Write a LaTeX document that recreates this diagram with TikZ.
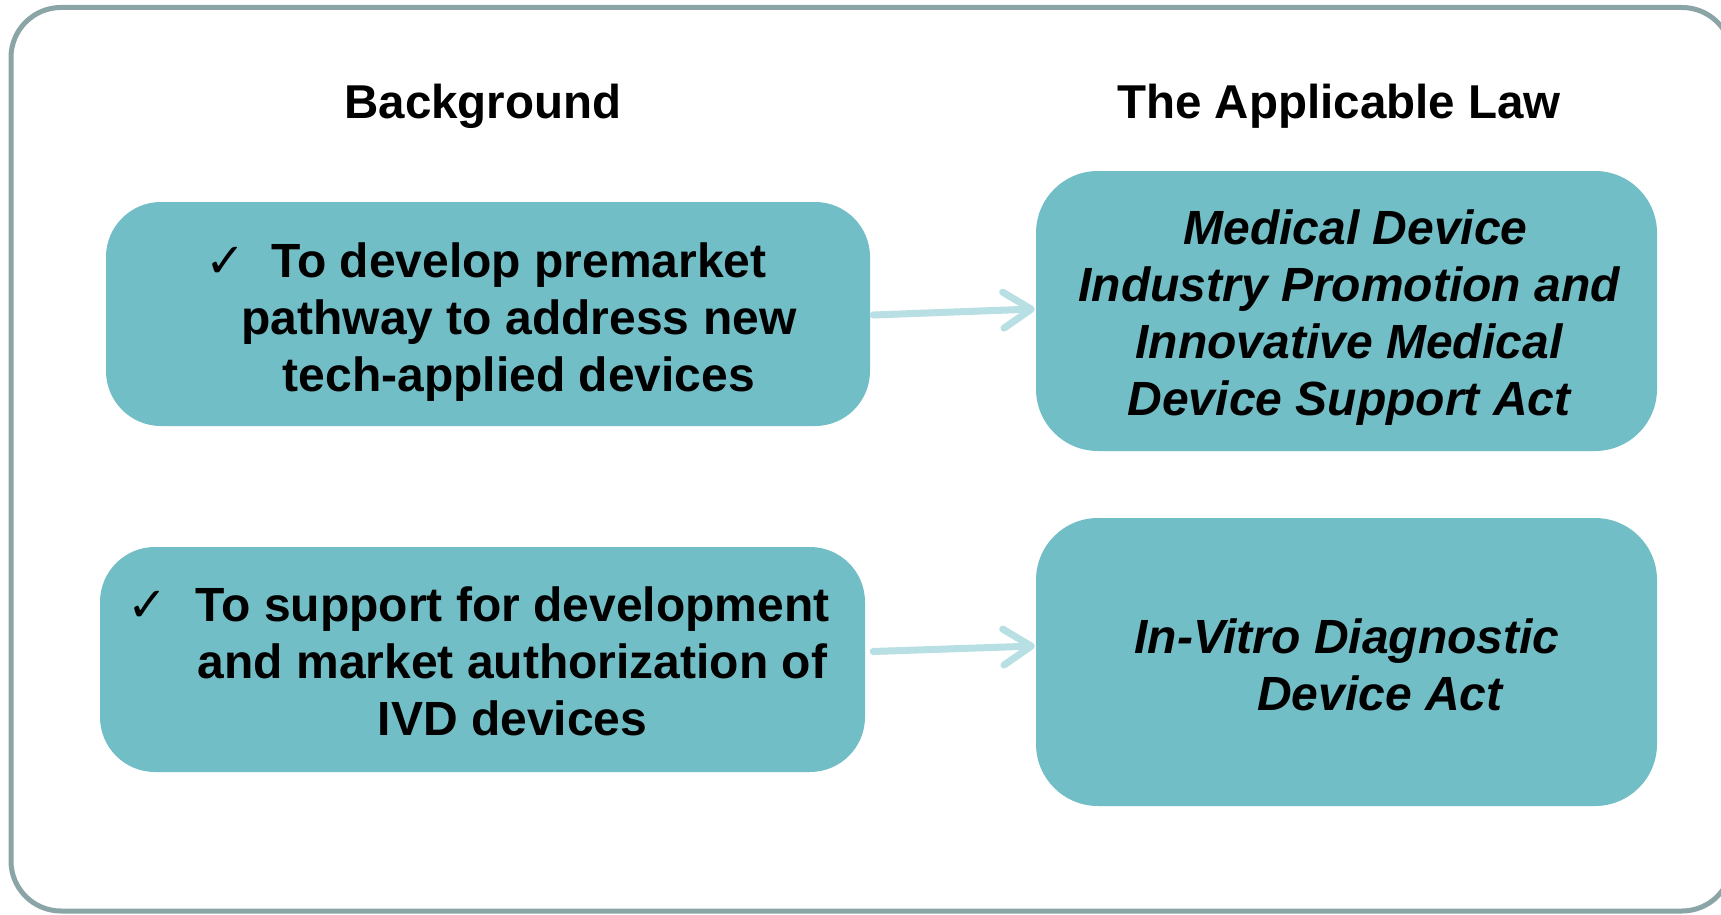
\documentclass[tikz,border=0pt]{standalone}
\usepackage{fontspec}
\setmainfont{Liberation Sans}
\newfontfamily\symfont{DejaVu Sans}
\usetikzlibrary{arrows.meta,calc}
\definecolor{boxfill}{RGB}{114,190,198}
\definecolor{arrowcol}{RGB}{184,223,227}
\definecolor{framecol}{RGB}{139,165,166}
\newcommand{\chk}[1]{\llap{{\symfont ✓}\hspace{#1}}}
\begin{document}
\begin{tikzpicture}[x=1pt,y=-1pt,
  box/.style={fill=boxfill, rounded corners=55pt, draw=none, inner sep=0pt},
  body/.style={font=\fontsize{48}{57}\selectfont\bfseries, align=center, anchor=base, inner sep=0pt},
  law/.style={body, font=\fontsize{48}{57}\selectfont\bfseries\itshape},
  head/.style={font=\fontsize{47.5}{57}\selectfont\bfseries, anchor=base, inner sep=0pt},
  arr/.style={draw=arrowcol, line width=7pt, line cap=round, -{Straight Barb[length=28pt,width=36pt,round]}}
]
\clip (0,0) rectangle (1721,915);
\fill[white] (0,0) rectangle (1721,915);
\draw[framecol, line width=5pt, rounded corners=50pt] (11,7.5) rectangle (1732,911);

\node[head] (h1) at (483,118.5) {Background};
\node[head] (h2) at (1339,118.5) {The Applicable Law};

\node[box, minimum width=764pt, minimum height=224pt] (b1) at (488,314) {};
\node[box, minimum width=765pt, minimum height=225pt] (b2) at (482.5,659.5) {};
\node[box, minimum width=621pt, minimum height=280pt, rounded corners=62pt] (b3) at (1346.5,311) {};
\node[box, minimum width=621pt, minimum height=288pt, rounded corners=62pt] (b4) at (1346.5,662) {};

\node[body] (t1) at (519,391) {\chk{26pt}To develop premarket\\pathway to address new\\tech-applied devices};
\node[body] (t2) at (512.6,735) {\chk{28pt}To support for development\\and market authorization of\\IVD devices};
\node[law] (t3) at (1349,415.4) {\hspace*{13pt}Medical Device\\Industry Promotion and\\Innovative Medical\\Device Support Act};
\node[law] (t4) at (1347,710.9) {In-Vitro Diagnostic\\\hspace*{66pt}Device Act};

\draw[arr] ($(b1.east)+(3,1)$) -- ($(b3.west)+(-1,-2)$);
\draw[arr] ($(b2.east)+(8,-8)$) -- ($(b4.west)+(-1,-16)$);
\end{tikzpicture}
\end{document}
